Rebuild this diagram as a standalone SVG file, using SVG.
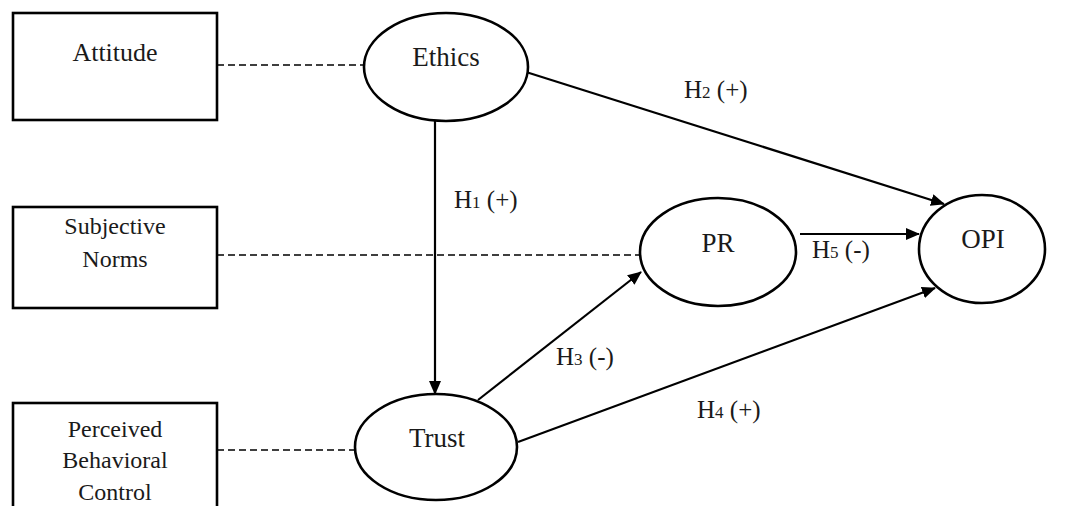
<svg xmlns="http://www.w3.org/2000/svg" width="1082" height="506" viewBox="0 0 1082 506">
<defs>
<marker id="arr" viewBox="0 0 14 12" refX="13" refY="6" markerWidth="14" markerHeight="12" markerUnits="userSpaceOnUse" orient="auto">
<path d="M0,0 L14,6 L0,12 Z" fill="#000"/>
</marker>
<style>
.box{fill:#fff;stroke:#000;stroke-width:2.6}
.ell{fill:#fff;stroke:#000;stroke-width:2.6}
.t{font-family:"Liberation Serif","Times New Roman",serif;fill:#1a1a1a;text-anchor:middle}
.bt{font-size:24px}
.et{font-size:27px}
.lb{font-family:"Liberation Serif","Times New Roman",serif;fill:#1a1a1a;font-size:25px}
.sub{font-size:17px}
.dash{stroke:#000;stroke-width:1.3;stroke-dasharray:7 4;fill:none}
.arrow{stroke:#000;stroke-width:2.2;fill:none;marker-end:url(#arr)}
</style>
</defs>
<rect width="1082" height="506" fill="#fff"/>
<g id="connectors">
<line class="dash" x1="217" y1="65" x2="364" y2="65"/>
<line class="dash" x1="217" y1="255" x2="640" y2="255"/>
<line class="dash" x1="217" y1="450" x2="356" y2="450"/>
<line class="arrow" x1="435" y1="120" x2="435" y2="394"/>
<line class="arrow" x1="526" y1="72" x2="944" y2="204"/>
<line class="arrow" x1="478" y1="400" x2="641" y2="272"/>
<line class="arrow" x1="518" y1="442" x2="935" y2="288"/>
<line class="arrow" x1="800" y1="234" x2="919" y2="234"/>
</g>
<g id="attitude" font-family="Liberation Serif, serif">
<rect class="box" x="13" y="13" width="204" height="107"/>
<text class="t" x="115" y="61" style="font-size:26px">Attitude</text>
</g>
<g id="subjective-norms" font-family="Liberation Serif, serif">
<rect class="box" x="13" y="207" width="204" height="101"/>
<text class="t bt" x="115" y="234">Subjective</text>
<text class="t bt" x="115" y="267">Norms</text>
</g>
<g id="perceived-behavioral-control" font-family="Liberation Serif, serif">
<rect class="box" x="13" y="403" width="204" height="120"/>
<text class="t bt" x="115" y="437">Perceived</text>
<text class="t bt" x="115" y="468">Behavioral</text>
<text class="t bt" x="115" y="500">Control</text>
</g>
<g id="ethics" font-family="Liberation Serif, serif">
<ellipse class="ell" cx="446" cy="67" rx="82" ry="54"/>
<text class="t et" x="446" y="66">Ethics</text>
</g>
<g id="trust" font-family="Liberation Serif, serif">
<ellipse class="ell" cx="436" cy="447" rx="81" ry="53"/>
<text class="t et" x="437" y="447">Trust</text>
</g>
<g id="pr" font-family="Liberation Serif, serif">
<ellipse class="ell" cx="718" cy="252" rx="78" ry="54"/>
<text class="t et" x="718" y="252">PR</text>
</g>
<g id="opi" font-family="Liberation Serif, serif">
<ellipse class="ell" cx="982" cy="249" rx="63" ry="54"/>
<text class="t et" x="983" y="248">OPI</text>
</g>
<g id="labels" font-family="Liberation Serif, serif">
<text class="lb" x="684" y="98">H<tspan class="sub">2</tspan> (+)</text>
<text class="lb" x="454" y="208">H<tspan class="sub">1</tspan> (+)</text>
<text class="lb" x="556" y="365">H<tspan class="sub">3</tspan> (-)</text>
<text class="lb" x="697" y="418">H<tspan class="sub">4</tspan> (+)</text>
<text class="lb" x="812" y="258">H<tspan class="sub">5</tspan> (-)</text>
</g>
</svg>
